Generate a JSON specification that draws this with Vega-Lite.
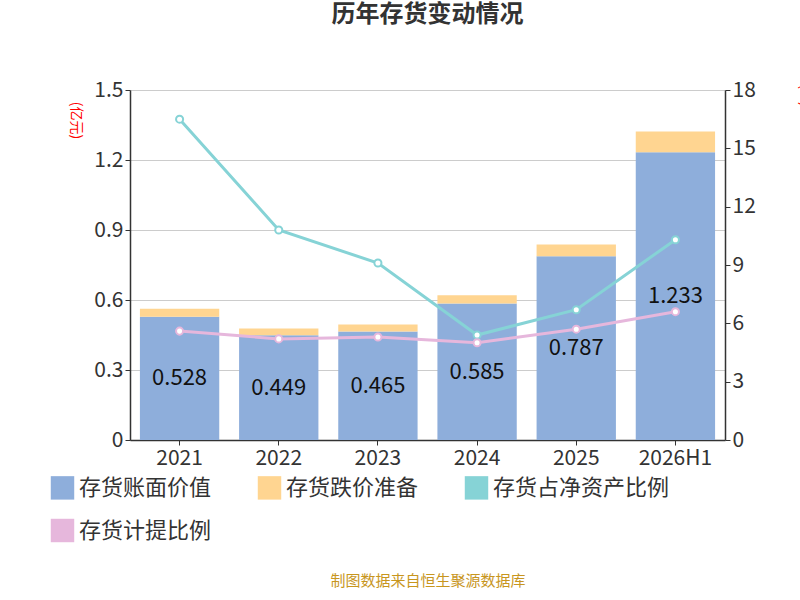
{
  "$schema": "https://vega.github.io/schema/vega-lite/v6.json",
  "width": 595,
  "height": 350,
  "autosize": {"type": "none"},
  "padding": {"left": 130, "top": 90, "right": 75, "bottom": 160},
  "background": "white",
  "config": {
    "font": "Noto Sans CJK SC",
    "view": {"stroke": null},
    "axis": {"labelFontSize": 21, "labelColor": "#333", "domainColor": "#333", "tickColor": "#333", "labelFont": "Noto Sans CJK SC", "domainWidth": 1.5}
  },
  "title": {"text": "历年存货变动情况", "fontSize": 24, "fontWeight": "bold", "color": "#333", "offset": 52, "anchor": "middle"},
  "data": {"values": [
    {"year": "2021", "book": 0.528, "reserve": 0.034, "ratio": 16.5, "prov": 5.6},
    {"year": "2022", "book": 0.449, "reserve": 0.029, "ratio": 10.8, "prov": 5.2},
    {"year": "2023", "book": 0.465, "reserve": 0.030, "ratio": 9.1, "prov": 5.3},
    {"year": "2024", "book": 0.585, "reserve": 0.035, "ratio": 5.4, "prov": 5.0},
    {"year": "2025", "book": 0.787, "reserve": 0.051, "ratio": 6.7, "prov": 5.7},
    {"year": "2026H1", "book": 1.233, "reserve": 0.089, "ratio": 10.3, "prov": 6.6}
  ]},
  "encoding": {
    "x": {"field": "year", "type": "nominal", "sort": null,
      "scale": {"paddingInner": 0.2, "paddingOuter": 0.1},
      "axis": {"labelAngle": 0, "title": "制图数据来自恒生聚源数据库", "titleColor": "#c8961e", "titleFontSize": 15, "titleFontWeight": "normal", "titleY": 140, "titleBaseline": "middle", "labelPadding": 2}}
  },
  "layer": [
    {
      "transform": [{"fold": ["book", "reserve"], "as": ["k", "v"]},
        {"lookup": "k", "from": {"data": {"values": [{"k": "book", "name": "存货账面价值", "o": 0}, {"k": "reserve", "name": "存货跌价准备", "o": 1}]}, "key": "k", "fields": ["name", "o"]}}],
      "mark": {"type": "bar"},
      "encoding": {
        "y": {"field": "v", "type": "quantitative", "stack": "zero",
          "scale": {"domain": [0, 1.5], "nice": false},
          "axis": {"values": [0, 0.3, 0.6, 0.9, 1.2, 1.5], "format": "~g", "grid": true, "gridColor": "#ccc", "orient": "left",
            "title": "(亿元)", "titleColor": "red", "titleFontSize": 14, "titleFontWeight": "normal", "titleAngle": 90, "titleX": -62, "titleY": 30, "titleAlign": "center"}},
        "order": {"field": "o"},
        "color": {"field": "name", "type": "nominal",
          "scale": {"domain": ["存货账面价值", "存货跌价准备", "存货占净资产比例", "存货计提比例"], "range": ["#8eaedb", "#ffd591", "#86d3d6", "#e6b7dc"]},
          "legend": {"orient": "none", "legendX": -80, "legendY": 385, "columns": 3, "direction": "horizontal", "title": null,
            "labelFontSize": 22, "labelColor": "#333", "symbolType": "square", "symbolSize": 550, "rowPadding": 18, "columnPadding": 45, "labelLimit": 300}}
      }
    },
    {
      "transform": [{"calculate": "datum.book / 2", "as": "mid"}],
      "mark": {"type": "text", "fontSize": 22, "color": "#111"},
      "encoding": {
        "y": {"field": "mid", "type": "quantitative", "scale": {"domain": [0, 1.5], "nice": false}, "axis": null},
        "text": {"field": "book", "type": "quantitative", "format": ".3f"}
      }
    },
    {
      "mark": {"type": "line", "color": "#86d3d6", "strokeWidth": 3, "point": {"filled": true, "fill": "white", "stroke": "#86d3d6", "strokeWidth": 2, "size": 50}},
      "encoding": {"y": {"field": "ratio", "type": "quantitative", "scale": {"domain": [0, 18], "nice": false},
        "axis": {"orient": "right", "values": [0, 3, 6, 9, 12, 15, 18], "grid": false, "title": "(%)", "titleColor": "red", "titleFontSize": 14, "titleFontWeight": "normal", "titleAngle": 90, "titleX": 72, "titleY": 5, "titleAlign": "center"}}}
    },
    {
      "mark": {"type": "line", "color": "#e6b7dc", "strokeWidth": 3, "point": {"filled": true, "fill": "white", "stroke": "#e6b7dc", "strokeWidth": 2, "size": 50}},
      "encoding": {"y": {"field": "prov", "type": "quantitative", "scale": {"domain": [0, 18], "nice": false}, "axis": null}}
    }
  ],
  "resolve": {"scale": {"y": "independent"}}
}
